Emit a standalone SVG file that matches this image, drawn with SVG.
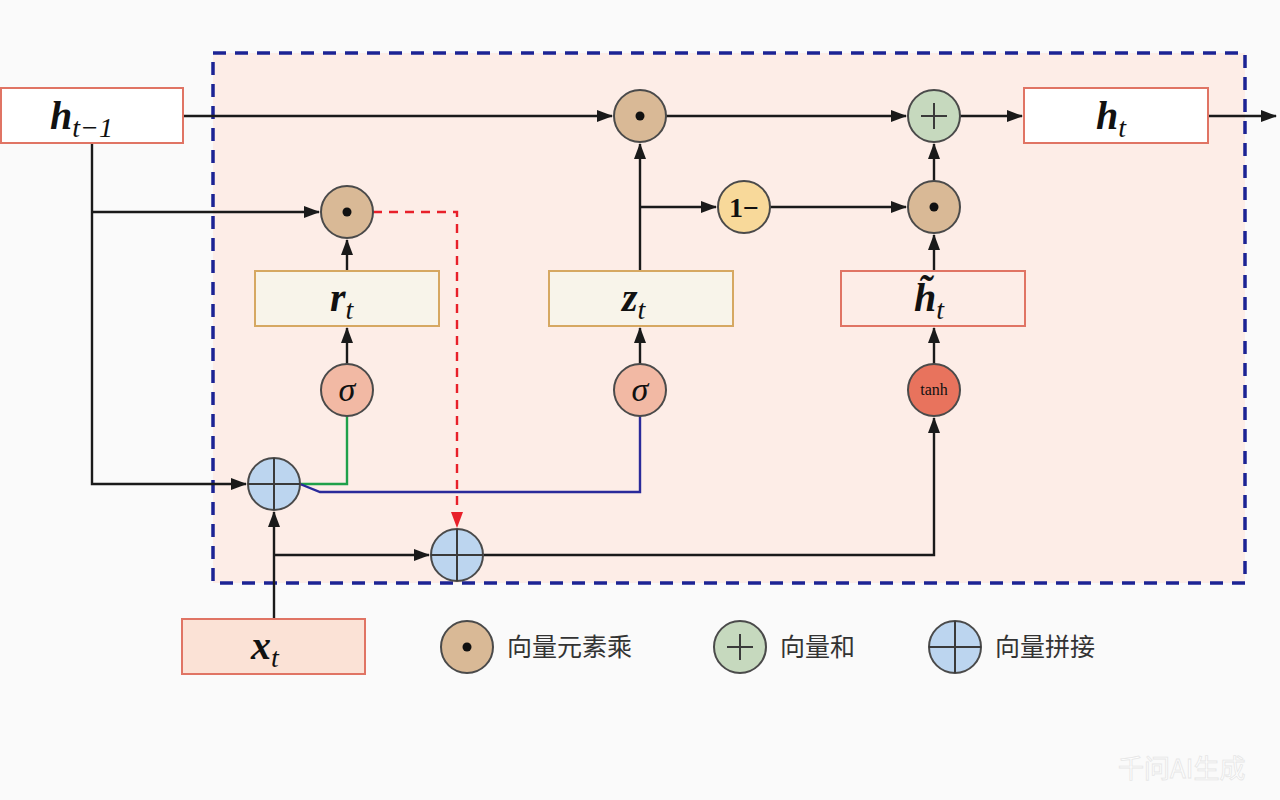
<svg xmlns="http://www.w3.org/2000/svg" width="1280" height="800" viewBox="0 0 1280 800">
<style>
.ln{fill:none;stroke:#1a1a1a;stroke-width:2.4}
.mul{fill:#d9b996;stroke:#4a4a4a;stroke-width:2}
.add{fill:#c6d9be;stroke:#4a4a4a;stroke-width:2}
.cat{fill:#bcd5ef;stroke:#4a4a4a;stroke-width:2}
.one{fill:#f8d99a;stroke:#4a4a4a;stroke-width:2}
.sig{fill:#f2b9a4;stroke:#4a4a4a;stroke-width:2}
.tanh{fill:#e8735d;stroke:#4a4a4a;stroke-width:2}
.cross{stroke:#3a3a3a;stroke-width:2}
.gate{fill:#f8f4ea;stroke:#d6a862;stroke-width:2}
.hbox{fill:#ffffff;stroke:#e07464;stroke-width:2}
.var{font-family:"Liberation Serif",serif;font-style:italic;font-weight:bold;font-size:40px;fill:#111}
.sub{font-family:"Liberation Serif",serif;font-style:italic;font-weight:normal;font-size:28px;fill:#111}
.sym{font-family:"Liberation Serif",serif;font-size:30px;fill:#111;text-anchor:middle}
.leg{font-family:"Noto Sans CJK SC","Liberation Sans",sans-serif;font-size:25px;fill:#333}
</style>
<defs>
<marker id="ah" markerWidth="16" markerHeight="12" refX="15" refY="6" orient="auto" markerUnits="userSpaceOnUse">
<path d="M0,0 L16,6 L0,12 Z" fill="#1a1a1a"/>
</marker>
<marker id="ahr" markerWidth="16" markerHeight="12" refX="15" refY="6" orient="auto" markerUnits="userSpaceOnUse">
<path d="M0,0 L16,6 L0,12 Z" fill="#e8202a"/>
</marker>
</defs>
<rect width="1280" height="800" fill="#fafafa"/>
<rect id="cell" x="213" y="53" width="1032" height="530" fill="#fdede7" stroke="#1c2394" stroke-width="3.5" stroke-dasharray="13,9"/>

<g id="connectors">
<path class="ln" d="M183,116 H612" marker-end="url(#ah)"/>
<path class="ln" d="M666,116 H906" marker-end="url(#ah)"/>
<path class="ln" d="M960,116 H1022" marker-end="url(#ah)"/>
<path class="ln" d="M1208,116 H1276" marker-end="url(#ah)"/>
<path class="ln" d="M92,143 V484 H246" marker-end="url(#ah)"/>
<path class="ln" d="M92,212 H319" marker-end="url(#ah)"/>
<path fill="none" stroke="#e8202a" stroke-width="2.4" stroke-dasharray="9,7" d="M373,212 H457 V527" marker-end="url(#ahr)"/>
<path class="ln" d="M347,271 V240" marker-end="url(#ah)"/>
<path class="ln" d="M347,364 V328" marker-end="url(#ah)"/>
<path fill="none" stroke="#1fa04a" stroke-width="2.4" d="M300,484 H347 V416"/>
<path fill="none" stroke="#2a2a9a" stroke-width="2.4" d="M300,484 L320,492 H640 V416"/>
<path class="ln" d="M640,271 V144" marker-end="url(#ah)"/>
<path class="ln" d="M640,207 H716" marker-end="url(#ah)"/>
<path class="ln" d="M640,364 V328" marker-end="url(#ah)"/>
<path class="ln" d="M770,207 H906" marker-end="url(#ah)"/>
<path class="ln" d="M934,181 V144" marker-end="url(#ah)"/>
<path class="ln" d="M934,271 V235" marker-end="url(#ah)"/>
<path class="ln" d="M934,364 V328" marker-end="url(#ah)"/>
<path class="ln" d="M483,555 H934 V418" marker-end="url(#ah)"/>
<path class="ln" d="M274,619 V512" marker-end="url(#ah)"/>
<path class="ln" d="M274,555 H429" marker-end="url(#ah)"/>
</g>

<g id="h_prev">
<rect class="hbox" x="1" y="88" width="182" height="55"/>
<text x="50" y="129"><tspan class="var">h</tspan><tspan class="sub" dy="8">t−1</tspan></text>
</g>
<g id="h_t">
<rect class="hbox" x="1024" y="88" width="184" height="55"/>
<text x="1096" y="129"><tspan class="var">h</tspan><tspan class="sub" dy="8">t</tspan></text>
</g>
<g id="x_t">
<rect x="182" y="619" width="183" height="55" fill="#fbe2d6" stroke="#e07464" stroke-width="2"/>
<text x="251" y="659"><tspan class="var">x</tspan><tspan class="sub" dy="8">t</tspan></text>
</g>
<g id="r_t">
<rect class="gate" x="255" y="271" width="184" height="55"/>
<text x="330" y="311"><tspan class="var">r</tspan><tspan class="sub" dy="8">t</tspan></text>
</g>
<g id="z_t">
<rect class="gate" x="549" y="271" width="184" height="55"/>
<text x="622" y="311"><tspan class="var">z</tspan><tspan class="sub" dy="8">t</tspan></text>
</g>
<g id="h_tilde">
<rect x="841" y="271" width="184" height="55" fill="#fdede7" stroke="#e07464" stroke-width="2"/>
<text x="914" y="311"><tspan class="var">h&#x303;</tspan><tspan class="sub" dy="8">t</tspan></text>
</g>

<g id="mul_top"><circle class="mul" cx="640" cy="116" r="26"/><circle cx="640" cy="116" r="4.5" fill="#111"/></g>
<g id="add_top"><circle class="add" cx="934" cy="116" r="26"/><path class="cross" d="M921,116 H947 M934,103 V129"/></g>
<g id="mul_r"><circle class="mul" cx="347" cy="212" r="26"/><circle cx="347" cy="212" r="4.5" fill="#111"/></g>
<g id="one_minus"><circle class="one" cx="744" cy="207" r="26"/><text class="sym" x="744" y="217" style="font-size:28px;font-weight:bold">1−</text></g>
<g id="mul_h"><circle class="mul" cx="934" cy="207" r="26"/><circle cx="934" cy="207" r="4.5" fill="#111"/></g>
<g id="sigma_r"><circle class="sig" cx="347" cy="390" r="26"/><text class="sym" x="347" y="401" font-style="italic" style="font-size:34px">σ</text></g>
<g id="sigma_z"><circle class="sig" cx="640" cy="390" r="26"/><text class="sym" x="640" y="401" font-style="italic" style="font-size:34px">σ</text></g>
<g id="tanh"><circle class="tanh" cx="934" cy="390" r="26"/><text class="sym" x="934" y="395" style="font-size:16px">tanh</text></g>
<g id="cat1"><circle class="cat" cx="274" cy="484" r="26"/><path class="cross" d="M248,484 H300 M274,458 V510"/></g>
<g id="cat2"><circle class="cat" cx="457" cy="555" r="26"/><path class="cross" d="M431,555 H483 M457,529 V581"/></g>

<g id="legend">
<circle class="mul" cx="467" cy="647" r="26"/><circle cx="467" cy="647" r="4.5" fill="#111"/>
<text class="leg" x="507" y="656">向量元素乘</text>
<circle class="add" cx="740" cy="647" r="26"/><path class="cross" d="M727,647 H753 M740,634 V660"/>
<text class="leg" x="780" y="656">向量和</text>
<circle class="cat" cx="955" cy="647" r="26"/><path class="cross" d="M929,647 H981 M955,621 V673"/>
<text class="leg" x="995" y="656">向量拼接</text>
</g>
<text x="1118" y="778" style="font-family:'Noto Sans CJK SC',sans-serif;font-size:26px;fill:#ffffff;stroke:#e6e6e6;stroke-width:0.8">千问AI生成</text>
</svg>
